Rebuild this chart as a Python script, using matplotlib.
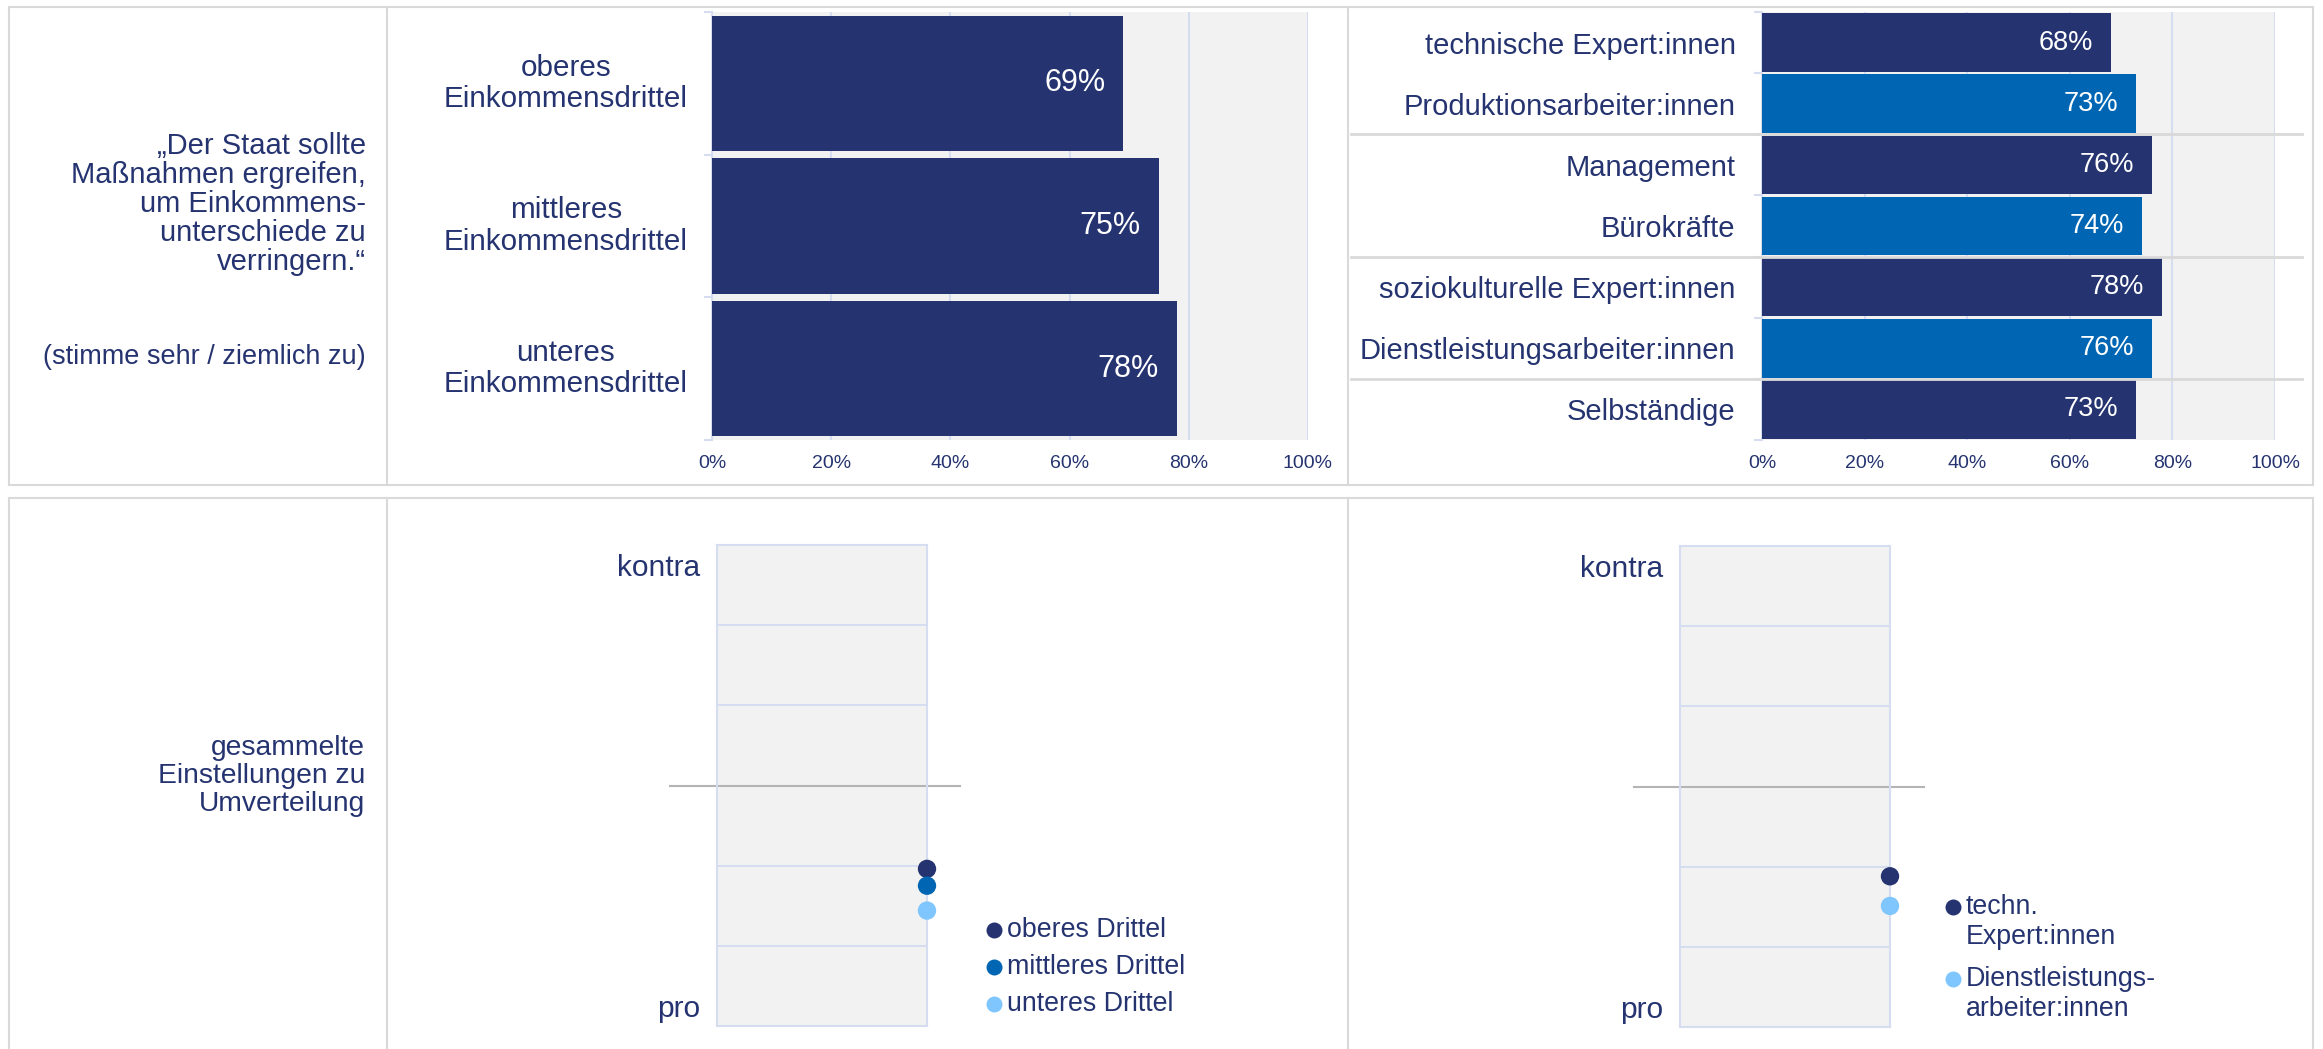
import numpy as np
import matplotlib.pyplot as plt
from matplotlib.patches import Rectangle
from matplotlib.lines import Line2D
import matplotlib.transforms as mtransforms

plt.rcParams['font.family'] = ['Liberation Sans', 'DejaVu Sans']

# data
income_groups = ['oberes\nEinkommensdrittel', 'mittleres\nEinkommensdrittel', 'unteres\nEinkommensdrittel']
income_values = [69, 75, 78]

class_groups = ['technische Expert:innen', 'Produktionsarbeiter:innen', 'Management', 'Bürokräfte',
                'soziokulturelle Expert:innen', 'Dienstleistungsarbeiter:innen', 'Selbständige']
class_values = [68, 73, 76, 74, 78, 76, 73]

income_att_labels = ['oberes Drittel', 'mittleres Drittel', 'unteres Drittel']
income_att_values = [-1.04, -1.25, -1.56]

class_att_labels = ['techn.\nExpert:innen', 'Dienstleistungs-\narbeiter:innen']
class_att_values = [-1.12, -1.49]

x_ticks = [0, 20, 40, 60, 80, 100]

NAVY = '#253470'
BLUE = '#0066b3'
LIGHT = '#7fc6ff'
BG = '#f2f2f2'
GRID = '#d6ddf1'
FRAME = '#d9d9d9'
MID = '#b4b4b4'

W, H = 2323, 1049
fig = plt.figure(figsize=(W / 100, H / 100), dpi=100)


def rect(x0, y0, x1, y1):
    return [x0 / W, 1 - y1 / H, (x1 - x0) / W, (y1 - y0) / H]


def fx(x):
    return x / W


def fy(y):
    return 1 - y / H


# panel frames
for top, bottom in [(7, 485), (498, 1070)]:
    fig.add_artist(Rectangle((fx(9), fy(bottom)), fx(2313) - fx(9), fy(top) - fy(bottom),
                             transform=fig.transFigure, fill=False, ec=FRAME, lw=1.5))
    for xd in [387, 1348]:
        fig.add_artist(Line2D([fx(xd), fx(xd)], [fy(top), fy(bottom)], transform=fig.transFigure,
                              color=FRAME, lw=1.5))


def bar_panel(r, labels, values, colors, bar_h, fs_val):
    ax = fig.add_axes(r)
    y = np.arange(len(values))
    ax.barh(y, values, height=bar_h, color=colors, zorder=3)
    ax.set_xlim(0, 100)
    ax.set_ylim(len(values) - 0.5, -0.5)
    ax.set_facecolor(BG)
    ax.set_xticks(x_ticks)
    ax.set_xticklabels([f'{t}%' for t in x_ticks])
    ax.xaxis.grid(True, color=GRID, lw=1.5, zorder=0)
    ax.set_axisbelow(True)
    for s in ['top', 'right', 'bottom']:
        ax.spines[s].set_visible(False)
    ax.spines['left'].set_color(GRID)
    ax.spines['left'].set_linewidth(1.5)
    ax.tick_params(axis='x', length=0, pad=11, labelsize=14, labelcolor=NAVY)
    ax.set_yticks(np.arange(len(values) + 1) - 0.5, minor=True)
    ax.tick_params(axis='y', which='minor', length=6, width=1.5, color=GRID)
    for i, v in enumerate(values):
        ax.annotate(f'{v}%', xy=(v, i), xytext=(-13, 0), textcoords='offset points',
                    ha='right', va='center', color='white', fontsize=fs_val, zorder=4)
    return ax


# top left: income thirds
ax1 = bar_panel(rect(712, 12, 1308, 440), income_groups, income_values, NAVY, 0.95, 22)
ax1.set_yticks(range(len(income_groups)))
ax1.set_yticklabels([])
ax1.tick_params(axis='y', which='major', length=0)
tr1 = mtransforms.blended_transform_factory(ax1.transAxes, ax1.transData)
for i, lab in enumerate(income_groups):
    ax1.text(-0.245, i, lab, transform=tr1, ha='center', va='center', fontsize=21.3,
             color=NAVY, linespacing=1.16)

# top right: occupational classes
class_colors = [NAVY if i % 2 == 0 else BLUE for i in range(len(class_values))]
ax2 = bar_panel(rect(1762, 12, 2275, 440), class_groups, class_values, class_colors, 0.96, 19.5)
ax2.set_yticks(range(len(class_groups)))
ax2.set_yticklabels(class_groups)
ax2.tick_params(axis='y', which='major', length=0, pad=19, labelsize=21, labelcolor=NAVY)
tr2 = mtransforms.blended_transform_factory(ax2.transAxes, ax2.transData)
for b in [1.5, 3.5, 5.5]:
    ax2.plot([-0.801, 1.053], [b, b], transform=tr2, color=FRAME, lw=2, clip_on=False, zorder=5)

# left side texts
fig.text(fx(366), fy(204), '„Der Staat sollte\nMaßnahmen ergreifen,\num Einkommens-\nunterschiede zu\nverringern.“',
         ha='right', va='center', multialignment='right', fontsize=21, color=NAVY, linespacing=1.04)
fig.text(fx(366), fy(357), '(stimme sehr / ziemlich zu)', ha='right', va='center', fontsize=19.5, color=NAVY)
fig.text(fx(365), fy(776), 'gesammelte\nEinstellungen zu\nUmverteilung', ha='right', va='center',
         multialignment='right', fontsize=20.3, color=NAVY, linespacing=1.12)


def attitude_panel(r, values, colors, mid_span):
    ax = fig.add_axes(r)
    ax.set_xlim(0, 1)
    ax.set_ylim(-3, 3)
    ax.set_facecolor(BG)
    ax.set_xticks([])
    ax.set_yticks([2.75, -2.75])
    ax.set_yticklabels(['kontra', 'pro'])
    ax.tick_params(axis='y', length=0, pad=12, labelsize=21.5, labelcolor=NAVY)
    for s in ax.spines.values():
        s.set_color(GRID)
        s.set_linewidth(1.5)
    for g in [-2, -1, 1, 2]:
        ax.axhline(g, color=GRID, lw=1.5, zorder=1)
    tr = mtransforms.blended_transform_factory(ax.transAxes, ax.transData)
    ax.plot(mid_span, [0, 0], transform=tr, color=MID, lw=1.5, clip_on=False, zorder=2)
    ax.scatter(np.ones(len(values)), values, s=175, c=colors, clip_on=False, zorder=5, linewidths=0)
    return ax


def manual_legend(ax, labels, colors, mx, tx, rows, fs):
    for lab, col, (my, ty) in zip(labels, colors, rows):
        ax.plot([fx(mx)], [fy(my)], 'o', transform=fig.transFigure, color=col, ms=11.5,
                clip_on=False, mec='none')
        fig.text(fx(tx), fy(ty), lab, ha='left', va='center', fontsize=fs, color=NAVY, linespacing=1.2)


ax3 = attitude_panel(rect(717, 545, 927, 1026), income_att_values, [NAVY, BLUE, LIGHT], [-0.222, 1.159])
manual_legend(ax3, income_att_labels, [NAVY, BLUE, LIGHT], 994, 1007,
              [(930, 930), (967, 967), (1004, 1004)], 19.3)

ax4 = attitude_panel(rect(1680, 546, 1890, 1027), class_att_values, [NAVY, LIGHT], [-0.22, 1.16])
manual_legend(ax4, class_att_labels, [NAVY, LIGHT], 1953, 1966,
              [(907, 922), (979, 994)], 19.3)

plt.savefig('out.png', dpi=100)
